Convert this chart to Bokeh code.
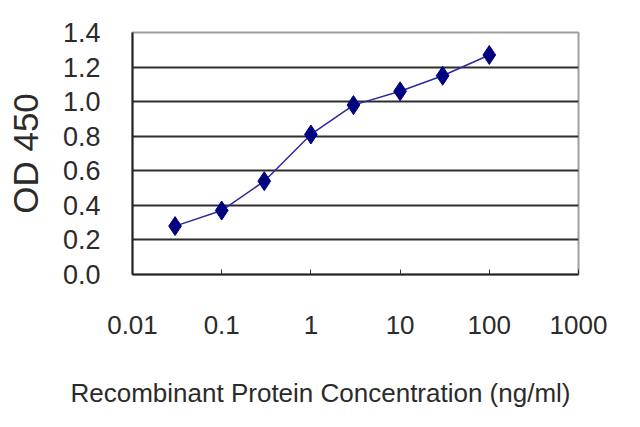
from bokeh.plotting import figure
from bokeh.models import FixedTicker, Title, ColumnDataSource
from bokeh.embed import file_html
from bokeh.resources import INLINE

# concentration (ng/ml) and measured OD450
concentration = [0.03, 0.1, 0.3, 1, 3, 10, 30, 100]
od450 = [0.28, 0.37, 0.54, 0.81, 0.98, 1.06, 1.15, 1.27]

x_ticks = [0.01, 0.1, 1, 10, 100, 1000]
x_tick_labels = ["0.01", "0.1", "1", "10", "100", "1000"]
y_ticks = [0.0, 0.2, 0.4, 0.6, 0.8, 1.0, 1.2, 1.4]
y_grid = [0.2, 0.4, 0.6, 0.8, 1.0, 1.2]

FONT = "Liberation Sans"
TEXT = "#2b2b2b"

source = ColumnDataSource(data=dict(x=concentration, y=od450))

p = figure(width=632, height=427, x_axis_type="log",
           x_range=(0.01, 1000), y_range=(0, 1.4),
           output_backend="svg", toolbar_location=None,
           min_border_left=132, min_border_right=54,
           min_border_top=32, min_border_bottom=153)

p.background_fill_color = "white"
p.border_fill_color = "white"
p.outline_line_color = "#a0a0a0"
p.outline_line_width = 2

# grid: dark horizontal lines only
p.xgrid.visible = False
p.ygrid.ticker = FixedTicker(ticks=y_grid)
p.ygrid.grid_line_color = "#2e2e2e"
p.ygrid.grid_line_width = 2

# x axis
p.xaxis.ticker = FixedTicker(ticks=x_ticks)
p.xaxis.major_label_overrides = {t: s for t, s in zip(x_ticks, x_tick_labels)}
p.xaxis.minor_tick_line_color = None
p.xaxis.major_tick_in = 5
p.xaxis.major_tick_out = 0
p.xaxis.major_tick_line_color = "#333333"
p.xaxis.axis_line_color = "#222222"
p.xaxis.axis_line_width = 2
p.xaxis.major_label_standoff = 41
p.xaxis.major_label_text_font = FONT
p.xaxis.major_label_text_font_size = "26px"
p.xaxis.major_label_text_color = TEXT

# y axis
p.yaxis.ticker = FixedTicker(ticks=y_ticks)
p.yaxis.major_label_overrides = {t: "%.1f" % t for t in y_ticks}
p.yaxis.minor_tick_line_color = None
p.yaxis.major_tick_in = 0
p.yaxis.major_tick_out = 0
p.yaxis.axis_line_color = "#222222"
p.yaxis.axis_line_width = 2
p.yaxis.major_label_standoff = 32
p.yaxis.major_label_text_font = FONT
p.yaxis.major_label_text_font_size = "27px"
p.yaxis.major_label_text_color = TEXT
p.yaxis.axis_label = "OD 450"
p.yaxis.axis_label_text_font = FONT
p.yaxis.axis_label_text_font_style = "normal"
p.yaxis.axis_label_text_font_size = "35px"
p.yaxis.axis_label_text_color = TEXT
p.yaxis.axis_label_standoff = 15

# x title sits under the whole chart, a bit left of the plot centre
p.add_layout(Title(text="Recombinant Protein Concentration (ng/ml)",
                   align="left", offset=-62, standoff=40,
                   padding=dict(top=19, right=0, bottom=0, left=0),
                   text_font=FONT, text_font_size="26px",
                   text_font_style="normal", text_color=TEXT), "below")

p.line("x", "y", source=source, line_color="#2a2aa0", line_width=1.5)
p.scatter("x", "y", source=source, marker="diamond", size=19,
          fill_color="#000080", line_color="#000080")

open("out.html", "w").write(file_html(p, INLINE))
